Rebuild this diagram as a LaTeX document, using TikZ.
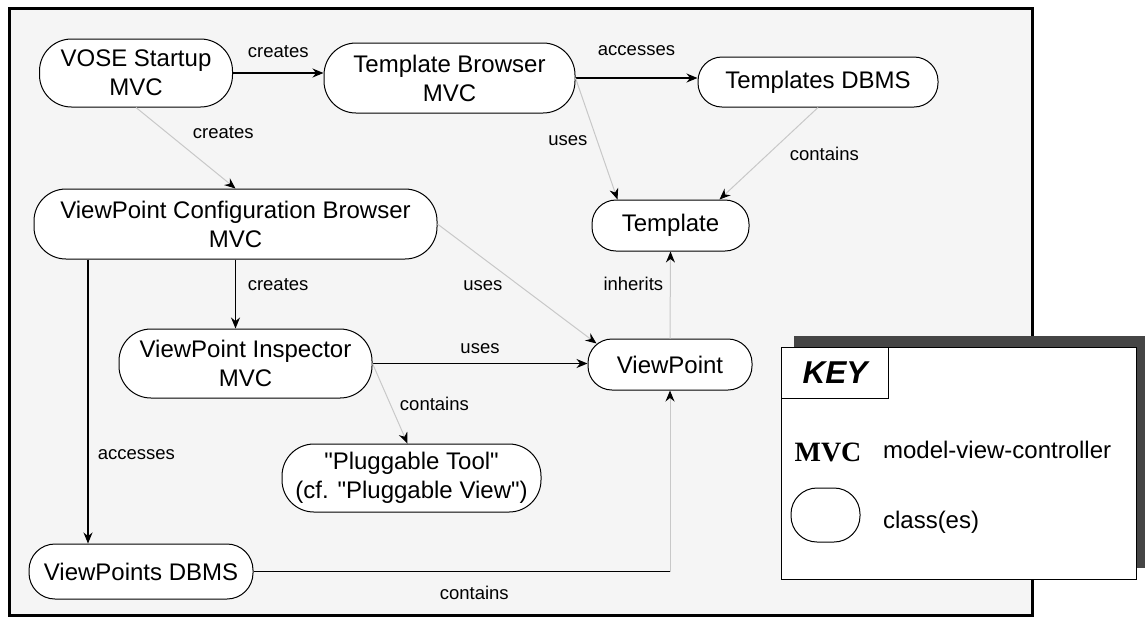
\documentclass[tikz,border=0pt]{standalone}
\usepackage{fontspec}
\setmainfont{Liberation Sans}[Ligatures=TeXOff]
\newfontfamily\legendserif{Liberation Serif}
\usepackage{tikz}
\usetikzlibrary{arrows.meta, positioning, shadows}
\definecolor{panelgray}{HTML}{F5F5F5}
\definecolor{linkgray}{HTML}{C8C8C8}
\definecolor{shadowgray}{HTML}{454545}

\begin{document}
\begin{tikzpicture}[x=0.5pt, y=-0.5pt,
  cls/.style={draw, fill=white, rounded corners=12pt, line width=0.5pt, align=center, inner sep=0pt, font=\fontsize{12}{14.5}\selectfont},
  tallcls/.style={cls, rounded corners=16pt},
  rel/.style={line width=0.6pt, -{Stealth[length=5.5pt, width=4.5pt]}},
  faint/.style={draw=linkgray, line width=0.5pt, -{Stealth[length=5.5pt, width=4.5pt, color=black]}},
  lbl/.style={font=\fontsize{9.25}{11}\selectfont, text height=1.5ex, text depth=.25ex}]
  \useasboundingbox (0,0) rectangle (1145,617);
  \fill[white] (0,0) rectangle (1145,617);
  \draw[line width=1.5pt, fill=panelgray] (9,8) rectangle (1032,615);

  % classes
  \node[tallcls, minimum width=96.5pt, minimum height=34pt] (vose) at (136,73) {VOSE Startup\\MVC};
  \node[tallcls, minimum width=125.5pt, minimum height=35pt] (tbrowser) at (449.5,78) {Template Browser\\MVC};
  \node[cls, minimum width=120pt, minimum height=25pt] (tdbms) at (818,82) {Templates DBMS};
  \node[cls, minimum width=78.5pt, minimum height=25.5pt] (template) at (670.5,225.5) {Template};
  \node[tallcls, minimum width=201.5pt, minimum height=35pt] (vpconfig) at (235.5,224) {ViewPoint Configuration Browser\\MVC};
  \node[tallcls, minimum width=126.5pt, minimum height=34.5pt] (inspector) at (245.5,363.5) {ViewPoint Inspector\\MVC};
  \node[cls, minimum width=82pt, minimum height=25.5pt] (viewpoint) at (670,364.5) {ViewPoint};
  \node[tallcls, minimum width=129.5pt, minimum height=34pt] (plugtool) at (411.5,478) {"Pluggable Tool"\\(cf. "Pluggable View")};
  \node[cls, minimum width=112pt, minimum height=27.5pt, rounded corners=13pt] (vpdbms) at (141,571.5) {ViewPoints DBMS};

  % relations
  \draw[rel] (vose.east) -- (vose.east -| tbrowser.west) node[lbl, midway, above=2.8pt] (lcreates1) {creates};
  \draw[rel] (tbrowser.east) -- (tbrowser.east -| tdbms.west) node[lbl, midway, above=6.4pt] (laccesses1) {accesses};
  \draw[faint] (vose.south) -- (vpconfig.north) node[lbl, midway, above right] (lcreates2) {creates};
  \draw[faint] (tbrowser.east) -- ([xshift=13pt]template.north west) node[lbl, midway, left=1pt] (luses1) {uses};
  \draw[faint] (tdbms.south) -- ([xshift=-15pt]template.north east) node[lbl, midway, right=7pt] (lcontains1) {contains};
  \draw[faint] (vpconfig.east) -- ([shift={(4.5pt,-2.5pt)}]viewpoint.north west) node[lbl, midway, left=3.75pt] (luses2) {uses};
  \draw[rel] (vpconfig.south) -- (vpconfig.south |- inspector.north) node[lbl, pos=0.35, right=2.5pt] (lcreates3) {creates};
  \draw[rel] ([xshift=-26.5pt]vpdbms.north |- vpconfig.south) -- ([xshift=-26.5pt]vpdbms.north) node[lbl, pos=0.68, right=1.25pt] (laccesses2) {accesses};
  \draw[rel] (inspector.east) -- (inspector.east -| viewpoint.west) node[lbl, midway, above] (luses3) {uses};
  \draw[faint] (inspector.east) -- ([xshift=-2pt]plugtool.north) node[lbl, midway, right=1.4pt] (lcontains2) {contains};
  \draw[faint] (viewpoint.north) -- (template.south) node[lbl, pos=0.625, left] (linherits) {inherits};
  \coordinate (vpbend) at (vpdbms.east -| viewpoint.south);
  \draw[line width=0.6pt] (vpdbms.east) -- (vpbend) node[lbl, pos=0.53, below=2.3pt] (lcontains3) {contains};
  \draw[faint] (vpbend) -- (viewpoint.south);

  % key
  \node[draw, fill=white, line width=0.5pt, minimum width=177.5pt, minimum height=116pt, anchor=north west, inner sep=0pt,
    drop shadow={shadow xshift=6pt, shadow yshift=6pt, fill=shadowgray, opacity=1}] (keybox) at (781,347) {};
  \node[draw, line width=0.5pt, minimum width=53.5pt, minimum height=25.5pt, anchor=north west, inner sep=0pt,
    font=\fontsize{15.8}{18}\selectfont\bfseries\itshape] (keytitle) at (keybox.north west) {KEY};
  \node[font=\legendserif\fontsize{14}{16}\selectfont\bfseries] (mvcmark) at (828,452) {MVC};
  \node[anchor=west, font=\fontsize{12}{14.5}\selectfont] (mvctext) at (876,450) {model-view-controller};
  \node[cls, minimum width=34.5pt, minimum height=27pt, rounded corners=13pt] (classmark) at (825.5,515) {};
  \node[anchor=west, font=\fontsize{12}{14.5}\selectfont] (classtext) at (876,522) {class(es)};
\end{tikzpicture}
\end{document}
